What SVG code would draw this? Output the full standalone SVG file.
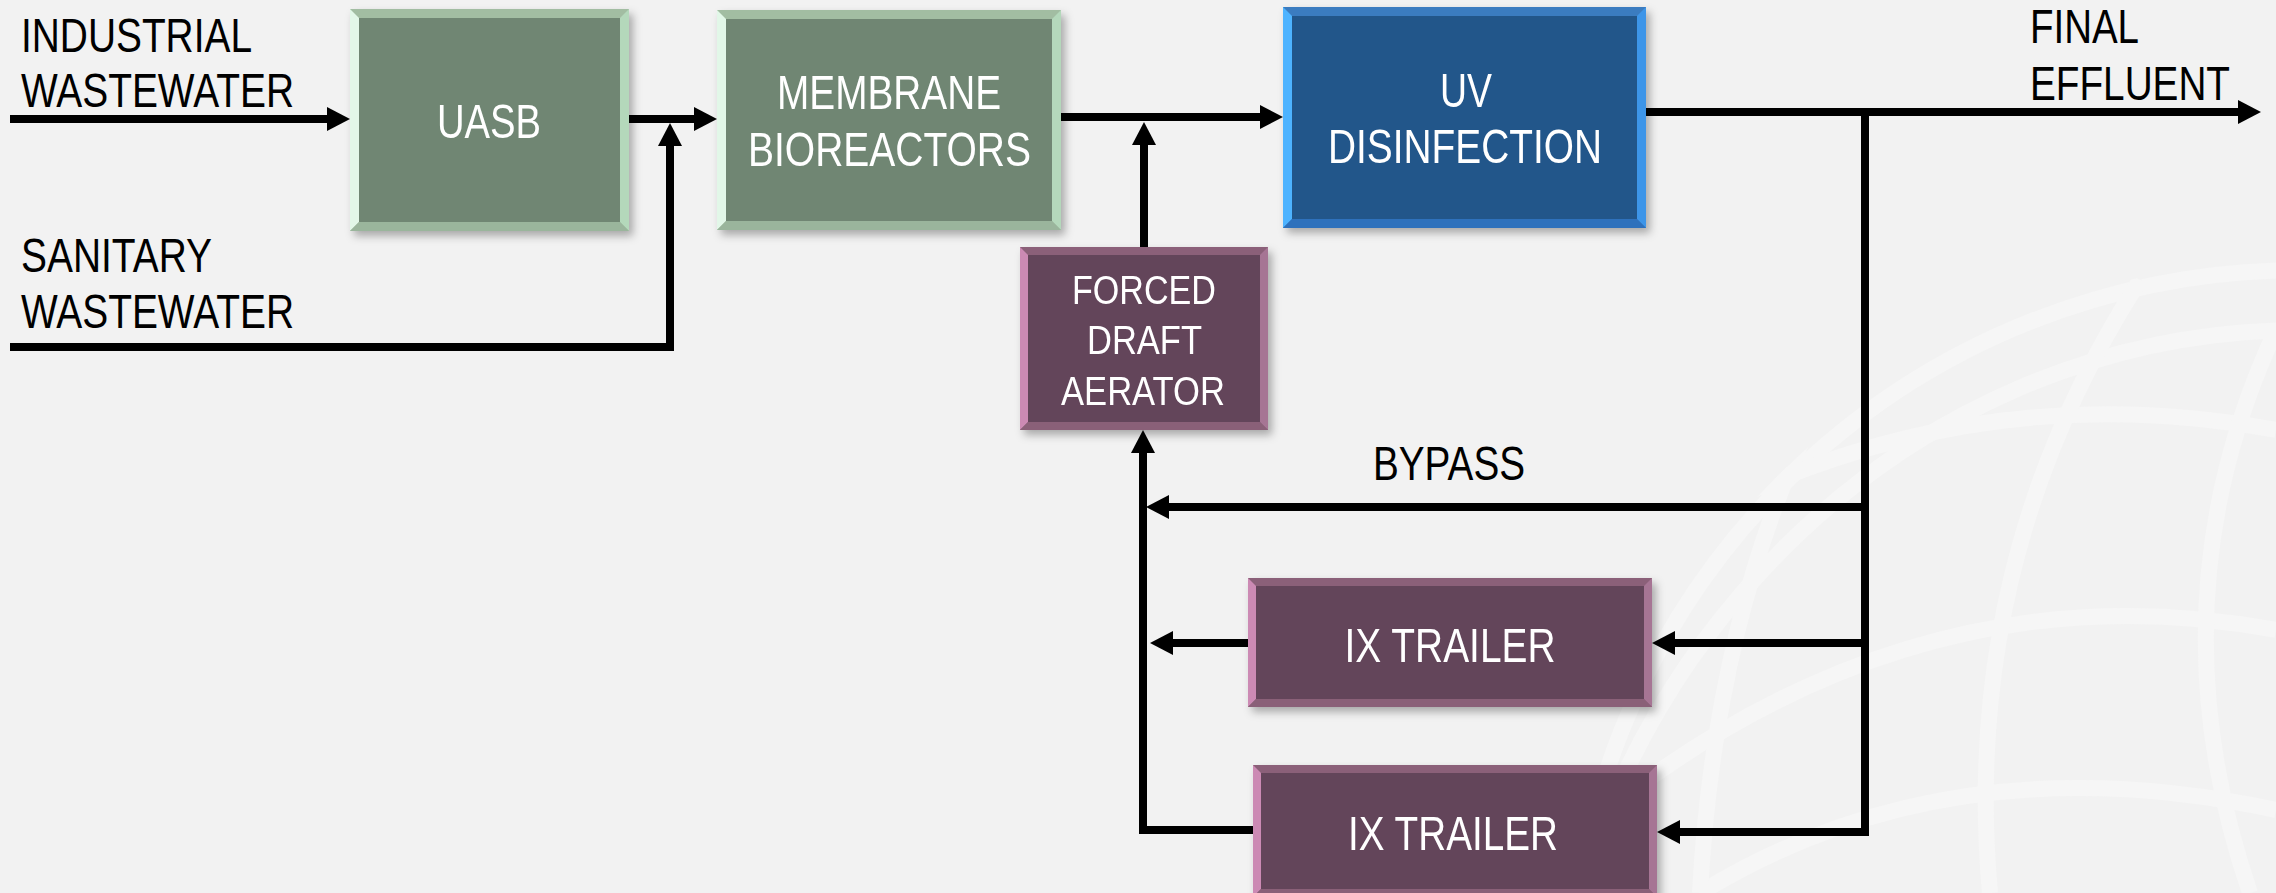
<svg xmlns="http://www.w3.org/2000/svg" width="2276" height="893" viewBox="0 0 2276 893">
<style>
.lbl{font-family:"Liberation Sans Narrow","Liberation Sans",Arial,sans-serif;font-size:48px;fill:#000}
.bt{font-family:"Liberation Sans Narrow","Liberation Sans",Arial,sans-serif;font-size:48px;fill:#fff;text-anchor:middle}
.bts{font-family:"Liberation Sans Narrow","Liberation Sans",Arial,sans-serif;font-size:41px;fill:#fff;text-anchor:middle}
.conn{fill:none;stroke:#000;stroke-width:8;stroke-linejoin:miter;stroke-linecap:butt;marker-end:url(#ah)}
.wm{fill:none;stroke:#f6f6f6;stroke-width:16}
.g .t{fill:#a2bda2}.g .l{fill:#e2f7e8}.g .r{fill:#b4d8bb}.g .b{fill:#9ab59c}.g .f{fill:#6f8673}
.u .t{fill:#3a7cc0}.u .l{fill:#4db3ff}.u .r{fill:#3e95e8}.u .b{fill:#2f71bc}.u .f{fill:#22568a}
.p .t{fill:#8b6079}.p .l{fill:#cc8ab4}.p .r{fill:#a67594}.p .b{fill:#8a6078}.p .f{fill:#63445a}
</style>
<defs>
<marker id="ah" markerUnits="userSpaceOnUse" markerWidth="26" markerHeight="26" refX="3" refY="12" orient="auto"><path d="M0,0 L23,12 L0,24 z" fill="#000"/></marker>
<filter id="sh" x="-10%" y="-10%" width="125%" height="130%"><feDropShadow dx="4" dy="5" stdDeviation="4" flood-color="#000" flood-opacity="0.3"/></filter>
<clipPath id="globe"><circle cx="2300" cy="1000" r="740"/></clipPath>
</defs>
<rect x="0" y="0" width="2276" height="893" fill="#f2f2f2"/>
<g id="watermark" clip-path="url(#globe)">
<circle class="wm" cx="2300" cy="1000" r="730"/>
<ellipse class="wm" cx="2300" cy="1150" rx="760" ry="820"/>
<path class="wm" d="M1560,600 Q1900,360 2276,430"/>
<path class="wm" d="M1570,840 Q1900,560 2276,630"/>
<path class="wm" d="M1700,893 Q1950,740 2276,810"/>
<path class="wm" d="M1900,270 Q1720,520 1700,893"/>
<path class="wm" d="M2140,280 Q1960,560 1990,893"/>
<path class="wm" d="M2276,330 Q2150,600 2250,893"/>
</g>
<g id="labels">
<text class="lbl" x="21" y="52" textLength="231" lengthAdjust="spacingAndGlyphs">INDUSTRIAL</text>
<text class="lbl" x="21" y="107" textLength="273" lengthAdjust="spacingAndGlyphs">WASTEWATER</text>
<text class="lbl" x="21" y="272" textLength="191" lengthAdjust="spacingAndGlyphs">SANITARY</text>
<text class="lbl" x="21" y="328" textLength="273" lengthAdjust="spacingAndGlyphs">WASTEWATER</text>
<text class="lbl" x="2030" y="43" textLength="109" lengthAdjust="spacingAndGlyphs">FINAL</text>
<text class="lbl" x="2030" y="100" textLength="200" lengthAdjust="spacingAndGlyphs">EFFLUENT</text>
<text class="lbl" x="1373" y="480" textLength="152" lengthAdjust="spacingAndGlyphs">BYPASS</text>
</g>
<g id="connectors">
<path class="conn" d="M10,119 H330"/>
<path class="conn" d="M10,347 H670 V143"/>
<path class="conn" d="M629,119 H697"/>
<path class="conn" d="M1061,117 H1263"/>
<path class="conn" d="M1144,247 V142"/>
<path class="conn" d="M1646,112 H2241"/>
<path class="conn" d="M1865,108 V832 H1677"/>
<path class="conn" d="M1861,507 H1166"/>
<path class="conn" d="M1861,643 H1672"/>
<path class="conn" d="M1248,643 H1170"/>
<path class="conn" d="M1253,830 H1143 V450"/>
</g>
<g id="uasb" class="g" filter="url(#sh)">
<rect class="t" x="350" y="9" width="279" height="222"/>
<polygon class="l" points="350,9 359,18 359,222 350,231"/>
<polygon class="r" points="629,9 629,231 620,222 620,18"/>
<polygon class="b" points="350,231 359,222 620,222 629,231"/>
<rect class="f" x="359" y="18" width="261" height="204"/>
<text class="bt" x="489" y="138" textLength="104" lengthAdjust="spacingAndGlyphs">UASB</text>
</g>
<g id="mbr" class="g" filter="url(#sh)">
<rect class="t" x="717" y="10" width="344" height="220"/>
<polygon class="l" points="717,10 726,19 726,221 717,230"/>
<polygon class="r" points="1061,10 1061,230 1052,221 1052,19"/>
<polygon class="b" points="717,230 726,221 1052,221 1061,230"/>
<rect class="f" x="726" y="19" width="326" height="202"/>
<text class="bt" x="889" y="109" textLength="224" lengthAdjust="spacingAndGlyphs">MEMBRANE</text>
<text class="bt" x="889.5" y="166" textLength="283" lengthAdjust="spacingAndGlyphs">BIOREACTORS</text>
</g>
<g id="uv" class="u" filter="url(#sh)">
<rect class="t" x="1283" y="7" width="363" height="221"/>
<polygon class="l" points="1283,7 1292,16 1292,219 1283,228"/>
<polygon class="r" points="1646,7 1646,228 1637,219 1637,16"/>
<polygon class="b" points="1283,228 1292,219 1637,219 1646,228"/>
<rect class="f" x="1292" y="16" width="345" height="203"/>
<text class="bt" x="1466" y="107" textLength="52" lengthAdjust="spacingAndGlyphs">UV</text>
<text class="bt" x="1465" y="163" textLength="274" lengthAdjust="spacingAndGlyphs">DISINFECTION</text>
</g>
<g id="aerator" class="p" filter="url(#sh)">
<rect class="t" x="1020" y="247" width="248" height="183"/>
<polygon class="l" points="1020,247 1028,255 1028,422 1020,430"/>
<polygon class="r" points="1268,247 1268,430 1260,422 1260,255"/>
<polygon class="b" points="1020,430 1028,422 1260,422 1268,430"/>
<rect class="f" x="1028" y="255" width="232" height="167"/>
<text class="bts" x="1144" y="304" textLength="144" lengthAdjust="spacingAndGlyphs">FORCED</text>
<text class="bts" x="1144.5" y="354" textLength="115" lengthAdjust="spacingAndGlyphs">DRAFT</text>
<text class="bts" x="1143" y="405" textLength="164" lengthAdjust="spacingAndGlyphs">AERATOR</text>
</g>
<g id="ix1" class="p" filter="url(#sh)">
<rect class="t" x="1248" y="578" width="404" height="129"/>
<polygon class="l" points="1248,578 1256,586 1256,699 1248,707"/>
<polygon class="r" points="1652,578 1652,707 1644,699 1644,586"/>
<polygon class="b" points="1248,707 1256,699 1644,699 1652,707"/>
<rect class="f" x="1256" y="586" width="388" height="113"/>
<text class="bt" x="1450" y="662" textLength="211" lengthAdjust="spacingAndGlyphs">IX TRAILER</text>
</g>
<g id="ix2" class="p" filter="url(#sh)">
<rect class="t" x="1253" y="765" width="404" height="132"/>
<polygon class="l" points="1253,765 1261,773 1261,889 1253,897"/>
<polygon class="r" points="1657,765 1657,897 1649,889 1649,773"/>
<polygon class="b" points="1253,897 1261,889 1649,889 1657,897"/>
<rect class="f" x="1261" y="773" width="388" height="116"/>
<text class="bt" x="1453" y="850" textLength="210" lengthAdjust="spacingAndGlyphs">IX TRAILER</text>
</g>
</svg>
